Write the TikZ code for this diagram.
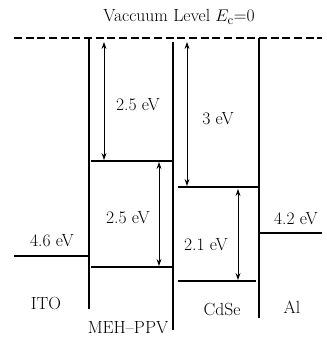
\documentclass[tikz,border=0pt]{standalone}
\usepackage{tikz}
\usetikzlibrary{arrows.meta, positioning, calc}

\begin{document}
\begin{tikzpicture}[
  x=0.3mm, y=-0.3mm,
  line/.style   = {line width=1pt},
  vacuum/.style = {line width=1pt, dash pattern=on 2.4mm off 1.1mm},
  gap/.style    = {{Stealth[length=6pt, width=4.2pt]}-{Stealth[length=6pt, width=4.2pt]},
                   line width=0.8pt},
  txt/.style    = {font=\fontsize{15}{17}\selectfont, inner sep=1pt}
]
\useasboundingbox (0,0) rectangle (326,337);

% ── Vacuum level ─────────────────────────────────────────────────────────────
\coordinate (vacL) at (14,38);
\coordinate (vacR) at (322,38);
\draw[vacuum] (vacL) -- (vacR);
\node[txt] (title) at (179,17) {Vaccuum Level $E_{\mathrm{c}}$=0};

% ── Interfaces ───────────────────────────────────────────────────────────────
\coordinate (ito top)  at (89,38);  \coordinate (ito bot)  at (89,309);
\coordinate (meh top)  at (173,42); \coordinate (meh bot)  at (173,330);
\coordinate (cdse top) at (259,38); \coordinate (cdse bot) at (259,318);
\draw[line] (ito top)  -- (ito bot);
\draw[line] (meh top)  -- (meh bot);
\draw[line] (cdse top) -- (cdse bot);

% ── Energy levels ────────────────────────────────────────────────────────────
\coordinate (itoL) at (14,256);   \coordinate (itoR) at (89,256);
\coordinate (mehLuL) at (91,161); \coordinate (mehLuR) at (173,161);
\coordinate (mehHoL) at (91,267); \coordinate (mehHoR) at (173,267);
\coordinate (cdLuL) at (178,187); \coordinate (cdLuR) at (258,187);
\coordinate (cdHoL) at (178,281); \coordinate (cdHoR) at (256,281);
\coordinate (alL) at (259,233);   \coordinate (alR) at (322,233);
\draw[line] (itoL) -- (itoR);
\draw[line] (mehLuL) -- (mehLuR);
\draw[line] (mehHoL) -- (mehHoR);
\draw[line] (cdLuL) -- (cdLuR);
\draw[line] (cdHoL) -- (cdHoR);
\draw[line] (alL) -- (alR);

% ── Gaps ─────────────────────────────────────────────────────────────────────
\coordinate (g1a) at (104,42);  \coordinate (g1b) at (104,160);
\coordinate (g2a) at (159,162); \coordinate (g2b) at (159,266);
\coordinate (g3a) at (187,42);  \coordinate (g3b) at (187,186);
\coordinate (g4a) at (238,189); \coordinate (g4b) at (238,280);
\draw[gap] (g1a) -- (g1b);
\draw[gap] (g2a) -- (g2b);
\draw[gap] (g3a) -- (g3b);
\draw[gap] (g4a) -- (g4b);

% ── Values ───────────────────────────────────────────────────────────────────
\node[txt] (v1) at (138,105) {2.5 eV};
\node[txt] (v2) at (218,119) {3 eV};
\node[txt] (v3) at (128,218) {2.5 eV};
\node[txt] (v4) at (206,245) {2.1 eV};
\node[txt] (v5) at (52,241)  {4.6 eV};
\node[txt] (v6) at (296,219) {4.2 eV};

% ── Materials ────────────────────────────────────────────────────────────────
\node[txt] (ito)  at (46,303)  {ITO};
\node[txt] (meh)  at (128,328) {MEH--PPV};
\node[txt] (cdse) at (222,309) {CdSe};
\node[txt] (al)   at (292,307) {Al};

\end{tikzpicture}
\end{document}
